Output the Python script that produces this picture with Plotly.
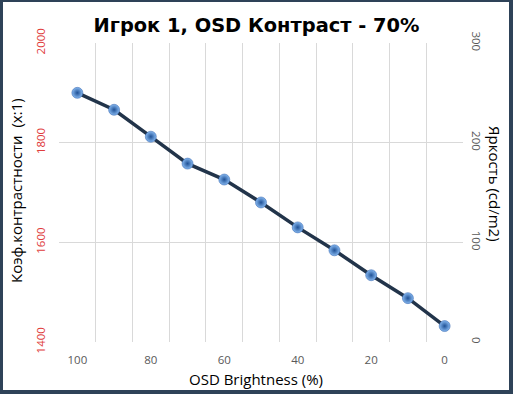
import plotly.graph_objects as go

# Data
osd_brightness = [100, 90, 80, 70, 60, 50, 40, 30, 20, 10, 0]
luminance_cd_m2 = [250, 233, 206, 179, 163, 140, 115, 92, 67, 44, 16]
x_tick_vals = [100, 80, 60, 40, 20, 0]
x_grid_vals = [105, 95, 85, 75, 65, 55, 45, 35, 25, 15, 5, -5]
left_ticks = [1400, 1600, 1800, 2000]
right_ticks = [0, 100, 200, 300]

title_text = "Игрок 1, OSD Контраст - 70%"
x_title = "OSD Brightness (%)"
left_title = "Коэф.контрастности  (x:1)"
right_title = "Яркость (cd/m2)"

W, H = 513, 394
L, R, T, B = 59, 50, 43, 52
pw, ph = W - L - R, H - T - B

def px_x(px):
    return (px - L) / pw

def px_y(py):
    return (H - B - py) / ph

BORDER = "#2e4258"
GRID = "#d9d9d9"
TICK = "#595959"
FONT = "Open Sans"

fig = go.Figure()
# empty trace so the left (contrast) axis is drawn
fig.add_trace(go.Scatter(x=[], y=[], yaxis="y", showlegend=False, hoverinfo="skip"))
fig.add_trace(go.Scatter(
    x=osd_brightness, y=luminance_cd_m2, yaxis="y2",
    mode="lines+markers",
    line=dict(color="#22344a", width=3.5),
    marker=dict(size=11, color="#86b8f0",
                gradient=dict(type="radial", color="#1f5196"),
                line=dict(width=0.5, color="#2a5da8")),
    showlegend=False, hoverinfo="x+y",
))

fig.update_layout(
    width=W, height=H,
    margin=dict(l=L, r=R, t=T, b=B),
    paper_bgcolor=BORDER,
    plot_bgcolor="rgba(0,0,0,0)",
    font=dict(family=FONT, color=TICK),
    title=dict(text="<b>" + title_text + "</b>", x=0.5, xref="container", xanchor="center",
               y=1 - 25 / H, yref="container", yanchor="middle",
               font=dict(family="DejaVu Sans", size=19.4, color="#000000")),
    xaxis=dict(range=[105, -5], tickmode="array", tickvals=x_tick_vals,
               ticktext=[str(v) for v in x_tick_vals],
               showgrid=False, zeroline=False, showline=False, ticks="",
               ticklabelstandoff=9,
               tickfont=dict(size=11.5, color=TICK, family=FONT),
               minor=dict(tickmode="array", tickvals=x_grid_vals, showgrid=True,
                          gridcolor=GRID, gridwidth=1, ticks=""),
               fixedrange=True),
    yaxis=dict(range=[1400, 2000], tickmode="array", tickvals=left_ticks,
               ticktext=[str(v) for v in left_ticks], tickangle=-90,
               showgrid=True, gridcolor=GRID, gridwidth=1,
               zeroline=False, showline=False, ticks="",
               ticklabelstandoff=11,
               tickfont=dict(size=11.5, color="#e03c3c", family=FONT),
               fixedrange=True),
    yaxis2=dict(range=[0, 300], tickmode="array", tickvals=right_ticks,
                ticktext=[str(v) for v in right_ticks], tickangle=90,
                overlaying="y", side="right", anchor="x",
                showgrid=False, zeroline=False, showline=False, ticks="",
                ticklabelstandoff=6,
                tickfont=dict(size=11.5, color=TICK, family=FONT),
                fixedrange=True),
    shapes=[dict(type="rect", xref="paper", yref="paper", layer="below",
                 x0=px_x(3), x1=px_x(509), y0=px_y(390), y1=px_y(2),
                 fillcolor="#ffffff", line=dict(width=0))],
    annotations=[
        dict(text=x_title, xref="paper", yref="paper", x=px_x(256), y=px_y(379),
             xanchor="center", yanchor="middle", showarrow=False,
             font=dict(family=FONT, size=15, color="#000000")),
        dict(text=left_title, xref="paper", yref="paper", x=px_x(16), y=px_y(191),
             xanchor="center", yanchor="middle", showarrow=False, textangle=-90,
             font=dict(family=FONT, size=15, color="#000000")),
        dict(text=right_title, xref="paper", yref="paper", x=px_x(495), y=px_y(184),
             xanchor="center", yanchor="middle", showarrow=False, textangle=90,
             font=dict(family=FONT, size=15, color="#000000")),
    ],
)

fig.write_html("out.html", config={"displayModeBar": False},
               post_script="document.body.style.margin='0px';")
